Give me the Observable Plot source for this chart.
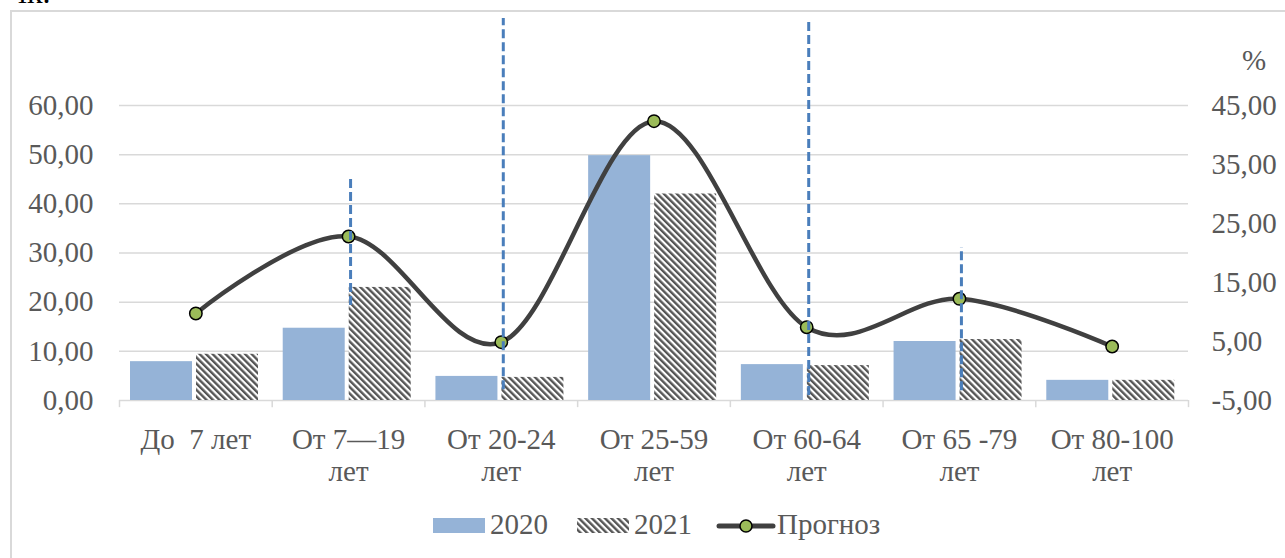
<!DOCTYPE html>
<html>
<head>
<meta charset="utf-8">
<script src="https://cdn.jsdelivr.net/npm/d3@7"></script>
<script src="https://cdn.jsdelivr.net/npm/@observablehq/plot@0.6"></script>
<style>
  body { margin: 0; background: #fff; }
  #wrap { position: relative; width: 1285px; height: 558px; overflow: hidden;
          font-family: "Liberation Serif", "Times New Roman", serif; }
  #frame { position: absolute; left: 10px; top: 10px; width: 1300px; height: 600px;
           border: 2px solid #d9d9d9; box-sizing: border-box; }
  #topText { position: absolute; left: 18px; top: -24px; font-size: 32px; color: #000; line-height: 1; }
  #pct { position: absolute; left: 1242px; top: 46px; font-size: 29px; color: #595959; line-height: 1; }
  #chart { position: absolute; left: 0; top: 0; }
  .lg { position: absolute; font-size: 29px; color: #595959; line-height: 1; top: 510px; }
  .sw { position: absolute; top: 518px; }
</style>
</head>
<body>
<svg width="0" height="0" style="position:absolute">
  <defs>
    <pattern id="hatch" patternUnits="userSpaceOnUse" width="4.6" height="4.6" patternTransform="rotate(-45)">
      <rect width="4.6" height="4.6" fill="#ffffff"></rect>
      <rect width="2.4" height="4.6" fill="#555555"></rect>
    </pattern>
  </defs>
</svg>
<div id="wrap">
  <div id="frame"></div>
  <div id="topText">ік.</div>
  <div id="pct">%</div>
  <div id="chart"></div>
  <svg class="sw" style="left:433px" width="52" height="15"><rect width="52" height="15" fill="#95B3D7"></rect></svg>
  <div class="lg" style="left:490px">2020</div>
  <svg class="sw" style="left:577px" width="52" height="15"><rect width="52" height="15" fill="url(#hatch)"></rect></svg>
  <div class="lg" style="left:634px">2021</div>
  <svg class="sw" style="left:716px;top:513px" width="60" height="26">
    <line x1="3" y1="13" x2="57" y2="13" stroke="#404040" stroke-width="5" stroke-linecap="round"></line>
    <circle cx="30" cy="13" r="6" fill="#9BBB59" stroke="#000" stroke-width="1.5"></circle>
  </svg>
  <div class="lg" style="left:777px">Прогноз</div>
</div>
<script>
// ---- data ----
const categories = ["До  7 лет", "От 7—19\nлет", "От 20-24\nлет", "От 25-59\nлет", "От 60-64\nлет", "От 65 -79\nлет", "От 80-100\nлет"];
const values2020 = [7.9, 14.7, 4.9, 49.8, 7.3, 12.0, 4.1];
const values2021 = [9.4, 23.0, 4.7, 42.0, 7.1, 12.4, 4.1];
const forecast = [9.75, 22.8, 4.88, 42.34, 7.42, 12.24, 4.15];   // right axis, %
const leftTicks = [0, 10, 20, 30, 40, 50, 60];
const rightTicks = [-5, 5, 15, 25, 35, 45];
const markerCats = ["От 7—19\nлет", "От 20-24\nлет", "От 60-64\nлет", "От 65 -79\nлет"];
const markerFrom = [19.3, 2.2, 1.0, 2.0];   // left-axis units
const markerTo = [45.1, 77.7, 76.9, 31.1];

// ---- helpers ----
const toLeft = r => (r + 5) * 60 / 50;
const toRight = l => l * 50 / 60 - 5;
const fmt = v => (Math.round(v * 100) / 100).toFixed(2).replace(".", ",");

const bars2020 = categories.map((c, i) => ({cat: c, v: values2020[i]}));
const bars2021 = categories.map((c, i) => ({cat: c, v: values2021[i]}));
const line = categories.map((c, i) => ({cat: c, v: toLeft(forecast[i])}));
const markers = markerCats.map((c, i) => ({cat: c, y1: markerFrom[i], y2: markerTo[i]}));

const W = 1285, H = 500, mL = 119, mR = 97, mT = 105, mB = 100;
const bw = (W - mL - mR) / categories.length;

const chart = Plot.plot({
  width: W, height: H,
  marginLeft: mL, marginRight: mR, marginTop: mT, marginBottom: mB,
  style: {fontFamily: "'Liberation Serif', 'Times New Roman', serif", fontSize: "29px", color: "#595959", background: "transparent", overflow: "visible"},
  x: {domain: categories, padding: 0, round: false},
  y: {domain: [0, 60]},
  marks: [
    Plot.ruleY(leftTicks, {stroke: "#d9d9d9", strokeWidth: 1.5}),
    Plot.ruleX(categories, {x: d => d, y1: 0, y2: -1.45, dx: -bw / 2, stroke: "#d9d9d9", strokeWidth: 1.5}),
    Plot.ruleX(categories.slice(-1), {x: d => d, y1: 0, y2: -1.45, dx: bw / 2, stroke: "#d9d9d9", strokeWidth: 1.5}),
    Plot.barY(bars2020, {x: "cat", y: "v", fill: "#95B3D7", insetLeft: 11, insetRight: bw - 73}),
    Plot.barY(bars2021, {x: "cat", y: "v", fill: "url(#hatch)", insetLeft: 77, insetRight: bw - 139}),
    Plot.line(line, {x: "cat", y: "v", curve: "cardinal", tension: 0, stroke: "#404040", strokeWidth: 4.5}),
    Plot.dot(line, {x: "cat", y: "v", r: 6.2, fill: "#9BBB59", stroke: "#000", strokeWidth: 1.5}),
    Plot.ruleX(markers, {x: "cat", y1: "y1", y2: "y2", dx: 2, stroke: "#4A7EBB", strokeWidth: 3, strokeDasharray: "9,4"}),
    Plot.axisY(leftTicks, {anchor: "left", tickSize: 0, tickPadding: 26, tickFormat: fmt, fontSize: 29, label: null}),
    Plot.axisY(rightTicks.map(toLeft), {anchor: "right", tickSize: 0, tickPadding: 23, tickFormat: v => fmt(toRight(v)), fontSize: 29, label: null}),
    Plot.axisX({tickSize: 0, tickPadding: 25, fontSize: 29, lineHeight: 1.12, label: null})
  ]
});
document.getElementById("chart").appendChild(chart);
</script>
</body>
</html>
